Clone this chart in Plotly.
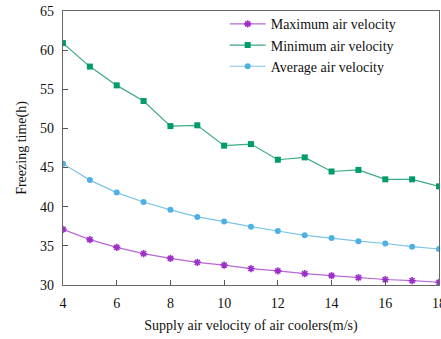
import plotly.graph_objects as go

x_vals = list(range(4, 19))
max_vel = [37.1, 35.8, 34.8, 34.0, 33.4, 32.9, 32.55, 32.1, 31.8, 31.45, 31.2, 30.95, 30.7, 30.55, 30.35]
min_vel = [60.9, 57.9, 55.5, 53.5, 50.3, 50.4, 47.8, 48.0, 46.0, 46.3, 44.5, 44.7, 43.5, 43.5, 42.6]
avg_vel = [45.5, 43.4, 41.8, 40.6, 39.6, 38.7, 38.1, 37.45, 36.9, 36.35, 36.0, 35.6, 35.3, 34.9, 34.6]
names = ["Maximum air velocity", "Minimum air velocity", "Average air velocity"]
x_ticks = [4, 6, 8, 10, 12, 14, 16, 18]
y_ticks = [30, 35, 40, 45, 50, 55, 60, 65]

font_fam = "Liberation Serif"

fig = go.Figure()
fig.add_trace(go.Scatter(x=x_vals, y=max_vel, name=names[0], mode="lines+markers",
                         line=dict(color="#b866d8", width=1.2),
                         marker=dict(symbol="asterisk-open", size=6, color="#9b2fc8",
                                     line=dict(color="#9b2fc8", width=1.6))))
fig.add_trace(go.Scatter(x=x_vals, y=min_vel, name=names[1], mode="lines+markers",
                         line=dict(color="#3aaa88", width=1.2),
                         marker=dict(symbol="square", size=6, color="#009b6b")))
fig.add_trace(go.Scatter(x=x_vals, y=avg_vel, name=names[2], mode="lines+markers",
                         line=dict(color="#7cc4e8", width=1.2),
                         marker=dict(symbol="circle", size=6, color="#4fb0e3")))

fig.update_layout(
    width=441, height=339,
    margin=dict(l=63, r=2, t=11, b=54, autoexpand=False),
    paper_bgcolor="white", plot_bgcolor="white",
    font=dict(family=font_fam, size=13, color="#111"),
    showlegend=True,
    legend=dict(x=0.43, y=1.01, xanchor="left", yanchor="top",
                bgcolor="rgba(0,0,0,0)", font=dict(family=font_fam, size=14),
                tracegroupgap=0, itemwidth=36),
)
fig.update_xaxes(range=[4, 18], tickvals=x_ticks,
                 ticks="inside", ticklen=5, tickcolor="#555",
                 showline=True, linecolor="#666", linewidth=1.4, mirror=True,
                 showgrid=False, zeroline=False, automargin=False,
                 ticklabeloverflow="allow", ticklabelstandoff=5,
                 title=dict(text="Supply air velocity of air coolers(m/s)", standoff=10,
                            font=dict(family=font_fam, size=14)),
                 tickfont=dict(family=font_fam, size=14))
fig.update_yaxes(range=[30, 65], tickvals=y_ticks,
                 ticks="inside", ticklen=5, tickcolor="#555",
                 showline=True, linecolor="#666", linewidth=1.4, mirror=True,
                 showgrid=False, zeroline=False, automargin=False,
                 ticklabelstandoff=5,
                 title=dict(text="Freezing time(h)", standoff=10,
                            font=dict(family=font_fam, size=14)),
                 tickfont=dict(family=font_fam, size=14))

fig.write_html("out.html", config={"displayModeBar": False},
               post_script="document.body.style.margin='0';")
